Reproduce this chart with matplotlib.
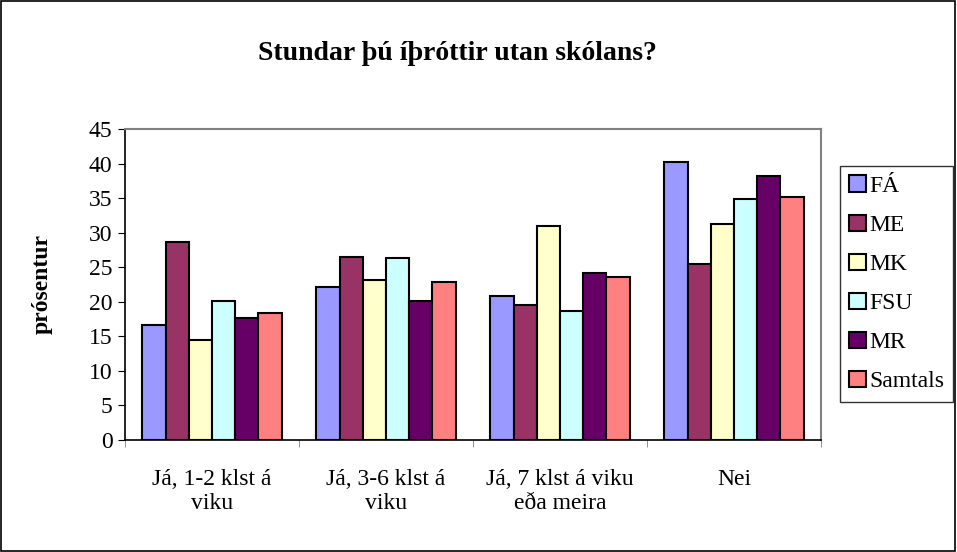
import matplotlib.pyplot as plt
import numpy as np
from matplotlib.patches import Rectangle

plt.rcParams['font.family'] = ['Liberation Serif', 'DejaVu Serif']

# Categories and series values (percent)
categories = ["Já, 1-2 klst á\nviku", "Já, 3-6 klst á\nviku",
              "Já, 7 klst á viku\neða meira", "Nei"]
series_names = ["FÁ", "ME", "MK", "FSU", "MR", "Samtals"]
fa = [16.6, 22.2, 20.9, 40.2]
me = [28.6, 26.5, 19.5, 25.4]
mk = [14.4, 23.2, 31.0, 31.3]
fsu = [20.1, 26.4, 18.7, 34.8]
mr = [17.6, 20.1, 24.1, 38.2]
samtals = [18.4, 22.8, 23.6, 35.1]
colors = ["#9999FF", "#993366", "#FFFFCC", "#CCFFFF", "#660066", "#FF8080"]

all_series = [fa, me, mk, fsu, mr, samtals]

fig = plt.figure(figsize=(9.57, 5.52), dpi=100)
ax = fig.add_axes([125 / 957, 1 - 440 / 552, 696 / 957, 311 / 552])

# Excel style: gap width 150% -> bar width = 1 / 7.5
w = 1 / 7.5
x = np.arange(len(categories)) + 0.5
for i, (name, vals) in enumerate(zip(series_names, all_series)):
    offs = (i - 2.5) * w
    ax.bar(x + offs, vals, width=w, color=colors[i], edgecolor="black",
           linewidth=1.5, label=name, zorder=3)

ax.set_xlim(0, 4)
ax.set_ylim(0, 45)
ax.set_yticks(range(0, 46, 5))
ax.set_xticks(x)
ax.set_xticklabels(categories, fontsize=17, linespacing=1.2)
ax.set_xticks(range(0, 5), minor=True)
ax.tick_params(axis="x", which="major", length=0, pad=21)
ax.tick_params(axis="x", which="minor", length=5, color="#808080")
ax.tick_params(axis="y", labelsize=17, length=5, direction="out", pad=4)

for side in ["top", "right"]:
    ax.spines[side].set_color("#808080")
    ax.spines[side].set_linewidth(1.5)
for side in ["left", "bottom"]:
    ax.spines[side].set_color("black")
    ax.spines[side].set_linewidth(1.2)

ax.set_ylabel("prósentur", fontsize=17, fontweight="bold", labelpad=26)

fig.text(457 / 957, 1 - 53 / 552, "Stundar þú íþróttir utan skólans?",
         ha="center", va="center", fontsize=20, fontweight="bold")

leg = ax.legend(loc="upper left", bbox_to_anchor=(840 / 957, 1 - 166 / 552),
                bbox_transform=fig.transFigure, fontsize=17, frameon=True,
                fancybox=False, edgecolor="black", handlelength=0.68,
                handleheight=0.68, handletextpad=0.15, labelspacing=0.75,
                borderpad=0.4, borderaxespad=0)
leg.get_frame().set_linewidth(1.0)

# Outer chart border
fig.patches.append(Rectangle((0.001, 0.002), 0.997, 0.996, transform=fig.transFigure,
                             fill=False, edgecolor="black", linewidth=1.2))

plt.savefig("out.png", dpi=100)
